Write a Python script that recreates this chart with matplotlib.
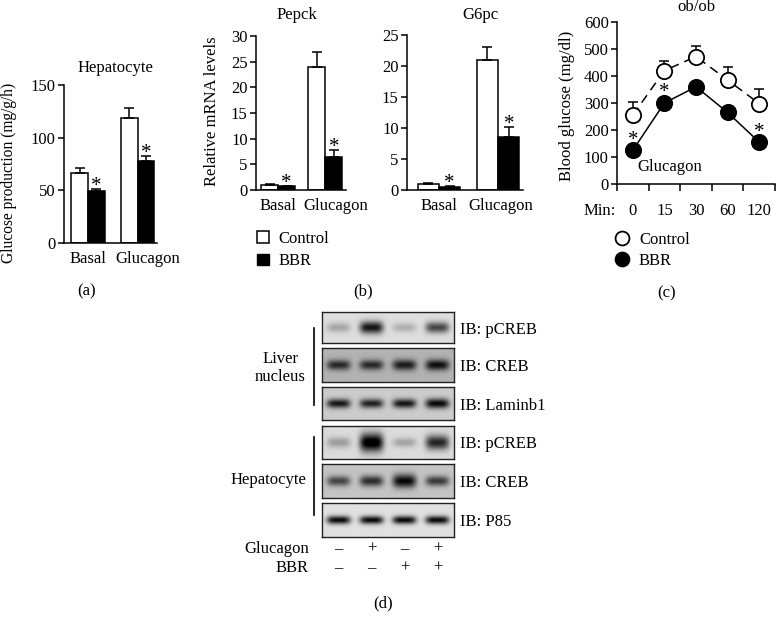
import numpy as np
import matplotlib
matplotlib.use('Agg')
import matplotlib.pyplot as plt
from matplotlib.lines import Line2D
from matplotlib.patches import Patch
from matplotlib.transforms import ScaledTranslation, blended_transform_factory

plt.rcParams['font.family'] = ['Liberation Serif', 'DejaVu Serif']
plt.rcParams['font.size'] = 12
plt.rcParams['axes.linewidth'] = 1.1

W, H = 776, 623

# (a) glucose production in hepatocytes
groups = ['Basal', 'Glucagon']
hep_ctrl = [66, 119]
hep_ctrl_err = [5, 9]
hep_bbr = [49, 78]
hep_bbr_err = [2, 5]

# (b) relative mRNA levels
pepck_ctrl = [1.0, 24.0]
pepck_ctrl_err = [0.15, 2.8]
pepck_bbr = [0.7, 6.5]
pepck_bbr_err = [0.1, 1.3]
g6pc_ctrl = [1.0, 21.0]
g6pc_ctrl_err = [0.15, 2.1]
g6pc_bbr = [0.5, 8.6]
g6pc_bbr_err = [0.1, 1.6]

# (c) ob/ob blood glucose after glucagon
minutes = ['0', '15', '30', '60', '120']
ob_ctrl = [255, 420, 472, 385, 298]
ob_ctrl_err = [50, 35, 40, 47, 54]
ob_bbr = [125, 300, 360, 265, 155]
ob_bbr_err = [6, 8, 6, 8, 6]
ob_sig = [True, True, False, False, True]

# (d) western blots (band darkness per lane)
blot_labels = ['IB: pCREB', 'IB: CREB', 'IB: Laminb1', 'IB: pCREB', 'IB: CREB', 'IB: P85']
blot_bg = [0.87, 0.70, 0.80, 0.86, 0.77, 0.88]
blot_bands = [[0.22, 0.80, 0.18, 0.60],
              [0.55, 0.55, 0.60, 0.65],
              [0.72, 0.68, 0.72, 0.78],
              [0.25, 0.95, 0.22, 0.72],
              [0.50, 0.60, 0.75, 0.55],
              [0.85, 0.85, 0.85, 0.85]]
blot_thick = [[0.16, 0.20, 0.15, 0.18],
              [0.15, 0.15, 0.16, 0.16],
              [0.14, 0.14, 0.14, 0.15],
              [0.16, 0.28, 0.14, 0.22],
              [0.15, 0.16, 0.20, 0.15],
              [0.12, 0.12, 0.12, 0.12]]
glucagon_signs = ['–', '+', '–', '+']
bbr_signs = ['–', '–', '+', '+']

fig = plt.figure(figsize=(7.76, 6.23), dpi=100)


def box(l, t, r, b):
    return [l / W, 1 - b / H, (r - l) / W, (b - t) / H]


def ftext(x, y, s, **kw):
    kw.setdefault('ha', 'center')
    kw.setdefault('va', 'center')
    fig.text(x / W, 1 - y / H, s, **kw)


def bar_panel(rect, ctrl, ctrl_err, bbr, bbr_err, width, xlim, ymax, ystep, shift):
    ax = fig.add_axes(box(*rect))
    x = np.arange(len(groups))
    ekw = dict(ecolor='black', elinewidth=1.1, capsize=3.5, capthick=1.1)
    ax.bar(x - width / 2, ctrl, width, color='white', edgecolor='black', linewidth=1.1,
           yerr=[np.zeros(len(ctrl)), ctrl_err], error_kw=ekw)
    ax.bar(x + width / 2, bbr, width, color='black', edgecolor='black', linewidth=1.1,
           yerr=[np.zeros(len(bbr)), bbr_err], error_kw=ekw)
    for xi, v, e in zip(x, bbr, bbr_err):
        ax.annotate('*', (xi + width / 2, v + e), xytext=(0, -1.5), textcoords='offset points',
                    ha='center', va='baseline', fontsize=15)
    ax.set_xlim(*xlim)
    ax.set_ylim(0, ymax)
    ax.set_yticks(np.arange(0, ymax + ystep / 2, ystep))
    ax.set_xticks(x, groups)
    ax.tick_params(axis='x', length=0, pad=6)
    ax.tick_params(axis='y', direction='out', length=4, width=1.1, pad=2)
    lab = ax.get_xticklabels()[1]
    lab.set_transform(lab.get_transform() + ScaledTranslation(shift / 100, 0, fig.dpi_scale_trans))
    for s in ['top', 'right']:
        ax.spines[s].set_visible(False)
    return ax


# (a)
bar_panel((64, 85, 157, 243), hep_ctrl, hep_ctrl_err, hep_bbr, hep_bbr_err,
          0.335, (-0.485, 1.39), 150, 50, 10)
ftext(115, 68, 'Hepatocyte')
ftext(9, 173, 'Glucose production (mg/g/h)', rotation=90, fontsize=11.2)
ftext(87, 291, '(a)')

# (b)
bar_panel((256, 36, 346, 190), pepck_ctrl, pepck_ctrl_err, pepck_bbr, pepck_bbr_err,
          0.36, (-0.47, 1.44), 30, 5, 10)
ftext(297, 15, 'Pepck')
ftext(212, 111, 'Relative mRNA levels', rotation=90)
bar_panel((407, 35, 523, 190), g6pc_ctrl, g6pc_ctrl_err, g6pc_bbr, g6pc_bbr_err,
          0.36, (-0.54, 1.42), 25, 5, 3)
ftext(480, 15, 'G6pc')
fig.legend(handles=[Patch(facecolor='white', edgecolor='black', linewidth=1.1, label='Control'),
                    Patch(facecolor='black', edgecolor='black', label='BBR')],
           loc='upper left', bbox_to_anchor=(257 / W, 1 - 231 / H), frameon=False,
           borderpad=0, borderaxespad=0, handlelength=0.7, handleheight=0.7,
           handletextpad=0.6, labelspacing=0.38)
ftext(363, 291, '(b)')

# (c)
axc = fig.add_axes(box(617, 22, 775, 184))
t = np.arange(len(minutes))
axc.errorbar(t, ob_ctrl, yerr=[np.zeros(len(t)), ob_ctrl_err], fmt='none', ecolor='black',
             elinewidth=1.1, capsize=3.5, capthick=1.1, zorder=1)
axc.plot(t, ob_ctrl, color='black', lw=1.1, ls=(0, (6, 4)), marker='o', ms=11,
         mfc='white', mec='black', mew=1.3, zorder=3)
axc.errorbar(t, ob_bbr, yerr=[np.zeros(len(t)), ob_bbr_err], fmt='none', ecolor='black',
             elinewidth=1.1, capsize=3.5, capthick=1.1, zorder=2)
axc.plot(t, ob_bbr, color='black', lw=1.1, marker='o', ms=11, mfc='black', mec='black',
         mew=1.3, zorder=4)
for ti, v, s in zip(t, ob_bbr, ob_sig):
    if s:
        axc.annotate('*', (ti, v), xytext=(0, 4), textcoords='offset points',
                     ha='center', va='baseline', fontsize=15)
axc.set_xlim(-0.5, 4.47)
axc.set_ylim(0, 600)
axc.set_yticks(np.arange(0, 601, 100))
axc.set_xticks(t, minutes)
axc.set_xticks(np.arange(-0.5, 4.6, 1), minor=True)
axc.tick_params(axis='x', which='major', length=0, pad=14)
axc.tick_params(axis='x', which='minor', direction='out', length=5, width=1.1)
axc.tick_params(axis='y', direction='out', length=4, width=1.1, pad=2)
for s in ['top', 'right']:
    axc.spines[s].set_visible(False)
ftext(600, 211, 'Min:')
ftext(670, 167, 'Glucagon')
ftext(696, 7, 'ob/ob')
ftext(567, 106, 'Blood glucose (mg/dl)', rotation=90)
fig.legend(handles=[Line2D([], [], ls='none', marker='o', ms=10, mfc='white', mec='black',
                           mew=1.3, label='Control'),
                    Line2D([], [], ls='none', marker='o', ms=10, mfc='black', mec='black',
                           mew=1.3, label='BBR')],
           loc='upper left', bbox_to_anchor=(614 / W, 1 - 232 / H), frameon=False,
           borderpad=0, borderaxespad=0, handlelength=1.0, handletextpad=0.5,
           labelspacing=0.28)
ftext(667, 293, '(c)')

# (d) blots
rows = [(312, 343), (348, 382), (387, 420), (426, 459), (464, 498), (503, 537)]
yy, xx = np.mgrid[0:1:80j, 0:4:320j]
for (top, bot), lab, bg, bands, thick in zip(rows, blot_labels, blot_bg, blot_bands, blot_thick):
    ax = fig.add_axes(box(322, top, 454, bot))
    img = np.full(xx.shape, bg)
    for i, (a, th) in enumerate(zip(bands, thick)):
        img = img - a * np.exp(-((xx - (i + 0.5)) / 0.36) ** 4) * np.exp(-((yy - 0.5) / th) ** 2)
    ax.imshow(np.clip(img, 0, 1), cmap='gray', vmin=0, vmax=1, extent=(0, 4, 1, 0),
              aspect='auto', interpolation='bilinear')
    ax.set_xticks([])
    ax.set_yticks([])
    for s in ax.spines.values():
        s.set_linewidth(1.0)
        s.set_color('#222222')
    ftext(460, (top + bot) / 2 + 2, lab, ha='left')

tr = blended_transform_factory(ax.transData, fig.transFigure)
for i, (g, b) in enumerate(zip(glucagon_signs, bbr_signs)):
    ax.text(i + 0.5, 1 - 549 / H, g, transform=tr, ha='center', va='center')
    ax.text(i + 0.5, 1 - 568 / H, b, transform=tr, ha='center', va='center')
ftext(309, 549, 'Glucagon', ha='right')
ftext(309, 568, 'BBR', ha='right')

fig.add_artist(Line2D([314 / W, 314 / W], [1 - 328 / H, 1 - 405 / H], color='black', lw=1.2))
fig.add_artist(Line2D([314 / W, 314 / W], [1 - 437 / H, 1 - 515 / H], color='black', lw=1.2))
ftext(306, 368, 'Liver\nnucleus', ha='right', multialignment='center', linespacing=1.15)
ftext(306, 480, 'Hepatocyte', ha='right')
ftext(383, 603, '(d)')

fig.savefig('out.png', dpi=100)
